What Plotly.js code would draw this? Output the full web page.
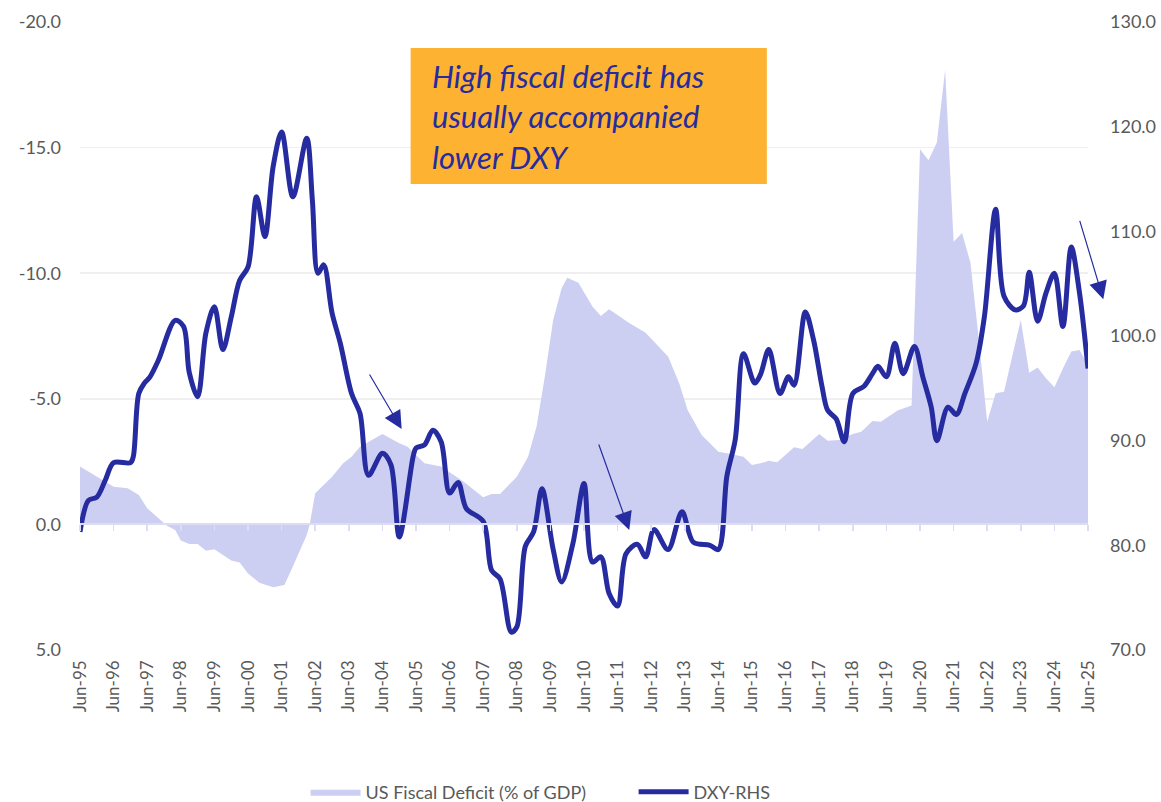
<!DOCTYPE html>
<html>
<head>
<meta charset="utf-8">
<script src="https://cdn.plot.ly/plotly-3.0.1.min.js"></script>
<style>
html,body{margin:0;padding:0;background:#fff;}
#chart{width:1161px;height:802px;}
</style>
</head>
<body>
<div id="chart"></div>
<script>
// US Fiscal Deficit (% of GDP) — left axis (inverted)
var fdDates = ['1995-06','1996-06','1996-11','1997-03','1997-06','1998-01','1998-04','1998-06','1998-09','1998-12',
  '1999-03','1999-06','1999-12','2000-03','2000-06','2000-10','2001-03','2001-07','2001-10','2002-03',
  '2002-04','2002-06','2002-09','2002-12','2003-04','2003-07','2003-10','2004-01','2004-06','2004-12',
  '2005-03','2005-09','2006-03','2006-11','2007-06','2007-09','2007-12','2008-06','2008-10','2009-01',
  '2009-04','2009-07','2009-10','2009-12','2010-04','2010-09','2010-12','2011-03','2011-10','2012-04',
  '2012-08','2012-12','2013-04','2013-07','2013-12','2014-06','2014-09','2015-03','2015-06','2015-09',
  '2015-12','2016-03','2016-09','2016-12','2017-06','2017-09','2018-01','2018-06','2018-09','2019-01',
  '2019-04','2019-10','2020-03','2020-06','2020-09','2020-12','2021-03','2021-06','2021-09','2021-12',
  '2022-03','2022-06','2022-09','2022-12','2023-03','2023-06','2023-09','2023-12','2024-03','2024-06',
  '2024-09','2024-12','2025-03','2025-06'];
var fdValues = [-2.3,-1.5,-1.44,-1.17,-0.64,0.05,0.22,0.64,0.78,0.78,
  1.05,0.99,1.44,1.52,1.95,2.32,2.5,2.41,1.68,0.42,
  0.02,-1.24,-1.57,-1.9,-2.43,-2.69,-3.09,-3.29,-3.6,-3.23,
  -3.09,-2.43,-2.3,-1.7,-1.08,-1.21,-1.21,-1.9,-2.69,-3.9,
  -5.88,-8.14,-9.4,-9.82,-9.62,-8.67,-8.3,-8.56,-8.03,-7.63,
  -7.14,-6.68,-5.62,-4.55,-3.56,-2.89,-2.83,-2.69,-2.36,-2.43,
  -2.53,-2.47,-3.07,-3.0,-3.6,-3.33,-3.36,-3.6,-3.69,-4.12,
  -4.09,-4.53,-4.73,-14.93,-14.5,-15.2,-18.09,-11.25,-11.6,-10.42,
  -7.4,-4.09,-5.22,-5.28,-6.7,-8.14,-6.04,-6.25,-5.82,-5.46,
  -6.21,-6.88,-6.94,-6.35];

// DXY — right axis
var dxyDates = ['1995-06','1995-09','1995-12','1996-03','1996-06','1996-12','1997-01','1997-03','1997-05','1997-07',
  '1997-10','1998-04','1998-07','1998-09','1998-12','1999-03','1999-06','1999-09','1999-12','2000-03',
  '2000-06','2000-09','2000-12','2001-03','2001-06','2001-10','2002-03','2002-05','2002-07','2002-09',
  '2002-12','2003-03','2003-07','2003-10','2004-01','2004-06','2004-09','2004-12','2005-05','2005-06',
  '2005-09','2005-12','2006-03','2006-06','2006-09','2006-12','2007-06','2007-09','2007-12','2008-04',
  '2008-06','2008-09','2008-12','2009-03','2009-07','2009-10','2010-02','2010-06','2010-09','2010-12',
  '2011-03','2011-06','2011-09','2012-01','2012-04','2012-07','2012-12','2013-05','2013-09','2014-03',
  '2014-06','2014-09','2014-12','2015-03','2015-07','2015-09','2015-12','2016-04','2016-07','2016-09',
  '2017-01','2017-04','2017-07','2017-09','2017-12','2018-03','2018-06','2018-10','2019-01','2019-03',
  '2019-06','2019-09','2019-12','2020-04','2020-07','2020-10','2020-12','2021-04','2021-07','2021-10',
  '2022-02','2022-05','2022-09','2022-12','2023-04','2023-07','2023-09','2023-12','2024-03','2024-06',
  '2024-09','2024-12','2025-03','2025-06'];
var dxyValues = [81.3,84.3,84.6,86.2,87.9,87.9,88.5,94.5,95.5,96.1,
  97.7,101.5,100.9,96.5,94.2,100.3,102.8,98.7,101.8,105.3,
  106.6,113.3,109.5,116.2,119.5,113.3,118.9,113.0,106.0,106.8,
  102.2,99.3,94.5,92.6,86.7,88.8,87.7,80.8,88.5,89.3,
  89.6,91.0,89.9,85.0,86.0,83.5,82.3,77.6,76.8,71.7,
  72.2,79.9,81.3,85.4,79.6,76.5,80.2,85.9,78.4,78.9,
  75.4,74.2,79.2,80.1,78.9,81.5,79.6,83.2,80.3,80.0,
  79.6,86.6,90.1,98.3,95.5,96.3,98.7,94.5,96.1,95.3,
  102.3,99.6,95.2,92.9,92.1,89.9,94.5,95.2,96.4,97.1,
  96.1,99.3,96.4,99.0,96.1,93.2,90.0,93.2,92.5,94.5,
  97.4,101.8,112.1,103.8,102.5,102.9,106.1,101.4,104.1,106.0,
  100.9,108.5,104.1,96.9];

var seriesNames = ['US Fiscal Deficit (% of GDP)', 'DXY-RHS'];
var noteText = 'High fiscal deficit has<br>usually accompanied<br>lower DXY';
var leftTickVals = [-20, -15, -10, -5, 0, 5];
var leftTickText = ['-20.0', '-15.0', '-10.0', '-5.0', '0.0', '5.0'];
var rightTickVals = [70, 80, 90, 100, 110, 120, 130];
var rightTickText = ['70.0', '80.0', '90.0', '100.0', '110.0', '120.0', '130.0'];

var lineBlue = '#262ca0';
var areaFill = '#cccff2';
var axisGrey = '#595959';
var fontFam = 'Lato, "Open Sans", sans-serif';

var xRange = ['1995-06-01', '2025-06-01'];

var traces = [
  {
    x: fdDates, y: fdValues, name: seriesNames[0],
    type: 'scatter', mode: 'lines', fill: 'tozeroy',
    fillcolor: areaFill, line: {width: 0, color: areaFill},
    xaxis: 'x', yaxis: 'y', hoverinfo: 'skip'
  },
  {
    x: dxyDates, y: dxyValues, name: seriesNames[1],
    type: 'scatter', mode: 'lines',
    line: {color: lineBlue, width: 5, shape: 'spline', smoothing: 0.9},
    xaxis: 'x', yaxis: 'y2', hoverinfo: 'skip'
  },
  {
    // empty carrier so the bottom label axis is drawn
    x: xRange, y: [null, null], type: 'scatter', mode: 'lines',
    xaxis: 'x2', yaxis: 'y', showlegend: false, hoverinfo: 'skip'
  }
];

var layout = {
  width: 1161, height: 802,
  margin: {l: 80, r: 73, t: 22, b: 152, autoexpand: false},
  paper_bgcolor: '#ffffff', plot_bgcolor: '#ffffff',
  font: {family: fontFam, color: axisGrey, size: 16},
  showlegend: true,
  legend: {
    orientation: 'h', x: 0.2238, xanchor: 'left', y: -0.226, yanchor: 'middle',
    font: {size: 18, color: axisGrey, family: fontFam}, itemwidth: 50,
    entrywidth: 263, entrywidthmode: 'pixels',
    bgcolor: 'rgba(0,0,0,0)'
  },
  xaxis: {
    type: 'date', range: xRange, anchor: 'free', position: 0.2,
    showgrid: false, zeroline: false,
    showline: true, linecolor: '#dcdcf3', linewidth: 2,
    ticks: 'outside', ticklen: 6, tickwidth: 1.5, tickcolor: '#dcdcf3',
    tick0: '1995-06-01', dtick: 'M12', showticklabels: false
  },
  xaxis2: {
    type: 'date', range: xRange, overlaying: 'x', anchor: 'y', side: 'bottom',
    showgrid: false, zeroline: false, showline: false, ticks: '',
    tick0: '1995-06-01', dtick: 'M12', tickformat: '%b-%y', tickangle: -90,
    tickfont: {size: 17, color: axisGrey, family: fontFam}, ticklabelstandoff: 6
  },
  yaxis: {
    range: [5, -20], tickmode: 'array', tickvals: leftTickVals, ticktext: leftTickText,
    showgrid: true, gridcolor: '#efefef', gridwidth: 1.5,
    zeroline: false, showline: false, ticks: '',
    tickfont: {size: 18, color: axisGrey, family: fontFam}, ticklabelstandoff: 18
  },
  yaxis2: {
    range: [70, 130], tickmode: 'array', tickvals: rightTickVals, ticktext: rightTickText,
    overlaying: 'y', side: 'right', showgrid: false, zeroline: false, showline: false, ticks: '',
    tickfont: {size: 18, color: axisGrey, family: fontFam}, ticklabelstandoff: 21
  },
  shapes: [
    {type: 'rect', xref: 'paper', yref: 'paper', x0: 0.328, x1: 0.6814, y0: 0.742, y1: 0.9586,
     fillcolor: '#fdb231', line: {width: 0}, layer: 'above'}
  ],
  annotations: [
    {xref: 'paper', yref: 'paper', x: 0.347, y: 0.947, xanchor: 'left', yanchor: 'top',
     text: '<i>' + noteText + '</i>', showarrow: false, align: 'left',
     font: {size: 31, color: lineBlue, family: fontFam}},
    {xref: 'paper', yref: 'paper', x: 0.3191, y: 0.3519, ax: -33, ay: -56, text: '',
     showarrow: true, arrowhead: 2, arrowsize: 3, arrowwidth: 1.2, arrowcolor: lineBlue},
    {xref: 'paper', yref: 'paper', x: 0.5449, y: 0.1911, ax: -31, ay: -87, text: '',
     showarrow: true, arrowhead: 2, arrowsize: 3, arrowwidth: 1.2, arrowcolor: lineBlue},
    {xref: 'paper', yref: 'paper', x: 1.0152, y: 0.5584, ax: -24, ay: -80, text: '',
     showarrow: true, arrowhead: 2, arrowsize: 3, arrowwidth: 1.2, arrowcolor: lineBlue}
  ]
};

Plotly.newPlot('chart', traces, layout, {staticPlot: true, displayModeBar: false});
</script>
</body>
</html>
